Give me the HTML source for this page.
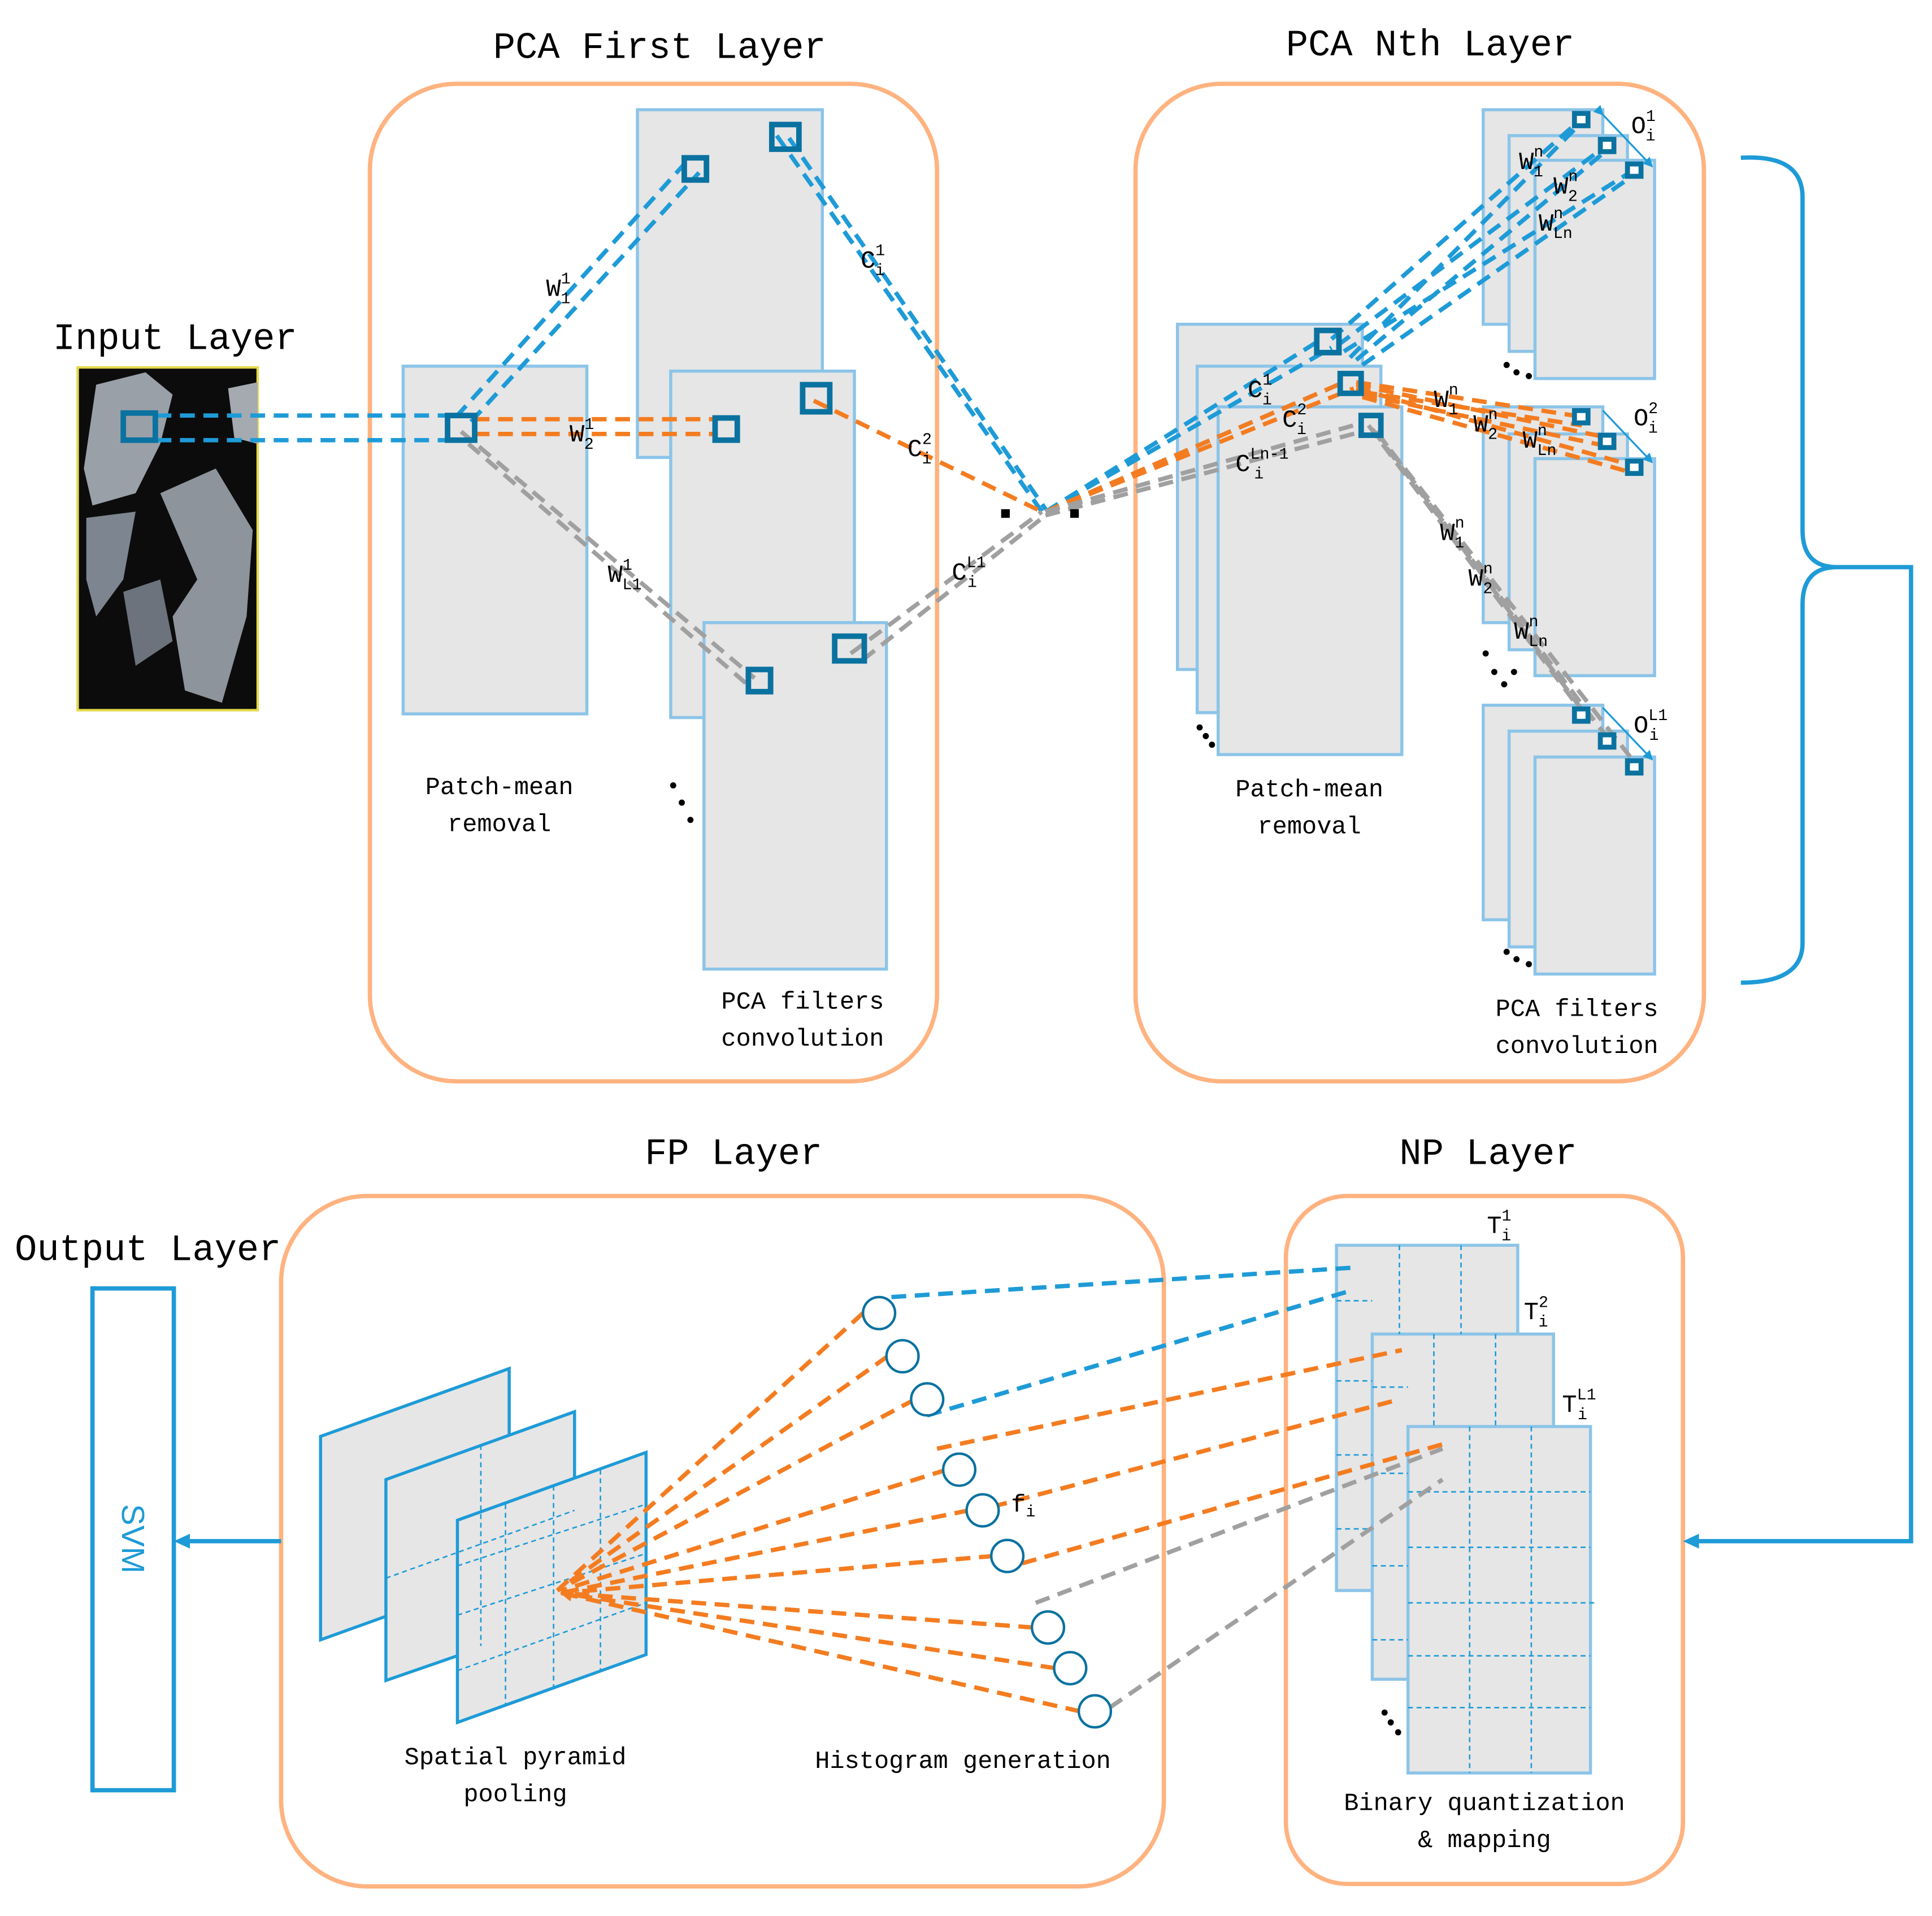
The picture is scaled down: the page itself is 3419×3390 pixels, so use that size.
<!DOCTYPE html>
<html><head><meta charset="utf-8"><style>html,body{margin:0;padding:0;background:#fff}svg{display:block}</style></head>
<body>
<svg width="3419" height="3390" viewBox="0 0 1567 1554" preserveAspectRatio="none" xmlns="http://www.w3.org/2000/svg" font-family="Liberation Mono, monospace">
<defs>
<marker id="ar" markerWidth="8" markerHeight="8" refX="7" refY="4" orient="auto" markerUnits="userSpaceOnUse"><path d="M0,0 L8,4 L0,8 z" fill="#1e9bd7"/></marker>
<marker id="ao" markerWidth="10" markerHeight="10" refX="9" refY="5" orient="auto" markerUnits="userSpaceOnUse"><path d="M0,0 L10,5 L0,10 z" fill="#f47c20"/></marker>
</defs>
<g font-size="30" fill="#000">
<text x="535" y="47" text-anchor="middle">PCA First Layer</text>
<text x="1160" y="45" text-anchor="middle">PCA Nth Layer</text>
<text x="142" y="283" text-anchor="middle">Input Layer</text>
<text x="595" y="944" text-anchor="middle">FP Layer</text>
<text x="1207" y="944" text-anchor="middle">NP Layer</text>
<text x="120" y="1022" text-anchor="middle">Output Layer</text>
</g>
<g fill="none" stroke="#ffb380" stroke-width="3.5">
<rect x="300" y="68" width="460" height="809" rx="70"/>
<rect x="921" y="68" width="461" height="809" rx="70"/>
<rect x="228" y="970" width="716" height="560" rx="70"/>
<rect x="1043" y="970" width="322" height="558" rx="50"/>
</g>
<rect x="63" y="298" width="146" height="278" fill="#0c0c0c" stroke="#e5d84a" stroke-width="2"/>
<path d="M78,312 L118,302 L140,320 L130,360 L110,400 L75,410 L68,380 Z" fill="#9aa0a8"/>
<path d="M185,315 L209,310 L209,360 L190,355 Z" fill="#a5aab0"/>
<path d="M70,420 L110,415 L100,470 L78,500 L70,470 Z" fill="#7d8590"/>
<path d="M130,400 L175,380 L205,430 L200,500 L180,570 L150,560 L140,500 L160,470 Z" fill="#8e949c"/>
<path d="M100,480 L130,470 L140,520 L110,540 Z" fill="#6c737c"/>
<g fill="#e6e6e6" stroke="#8cc4e8" stroke-width="2.5">
<rect x="327" y="297" width="149" height="282"/>
<rect x="517" y="89" width="150" height="282"/>
<rect x="544" y="301" width="149" height="281"/>
<rect x="571" y="505" width="148" height="281"/>
<rect x="955" y="263" width="150" height="280"/>
<rect x="971" y="297" width="149" height="281"/>
<rect x="988" y="330" width="149" height="282"/>
<rect x="1203" y="89" width="97" height="174"/>
<rect x="1224" y="110" width="96" height="175"/>
<rect x="1245" y="130" width="97" height="177"/>
<rect x="1203" y="330" width="97" height="175"/>
<rect x="1224" y="352" width="96" height="175"/>
<rect x="1245" y="372" width="97" height="176"/>
<rect x="1203" y="572" width="97" height="174"/>
<rect x="1224" y="593" width="96" height="175"/>
<rect x="1245" y="614" width="97" height="176"/>
<rect x="1084" y="1010" width="147" height="280"/>
<rect x="1113" y="1082" width="147" height="280"/>
<rect x="1142" y="1157" width="148" height="281"/>
</g>
<g stroke="#1e9bd7" stroke-width="1.2" stroke-dasharray="4,3" fill="none">
<path d="M1135,1010V1082M1185,1010V1082M1084,1055H1113M1084,1120H1113M1084,1180H1113M1084,1240H1113"/>
<path d="M1163,1082V1157M1213,1082V1157M1113,1125H1142M1113,1195H1142M1113,1270H1142M1113,1330H1142"/>
<path d="M1192,1157V1438M1242,1157V1438M1142,1210H1290M1142,1255H1290M1142,1300H1295M1142,1343H1290M1142,1385H1290"/>
</g>
<g fill="#e6e6e6" stroke="#1e9bd7" stroke-width="2.5">
<path d="M260,1165 L413,1110 L413,1275 L260,1330 Z"/>
<path d="M313,1200 L466,1145 L466,1310 L313,1363 Z"/>
<path d="M371,1233 L524,1178 L524,1342 L371,1397 Z"/>
</g>
<g stroke="#1e9bd7" stroke-width="1.2" stroke-dasharray="4,3" fill="none">
<path d="M313,1280 L466,1225 M390,1172 L390,1335"/>
<path d="M371,1270 L524,1220 M371,1310 L524,1260 M371,1355 L524,1300 M410,1220 L410,1383 M449,1205 L449,1370 M487,1192 L487,1356"/>
</g>
<g fill="none" stroke-width="3.5" stroke-dasharray="12,7">
<g stroke="#1e9bd7">
<path d="M127,337 H362 M127,357 H362"/>
<path d="M370,338 L556,132 M382,342 L567,140"/>
<path d="M630,110 L845,415 M640,112 L848,413"/>
<path d="M848,415 L1072,275 M848,415 L1080,282 M848,415 L1090,310"/>
<path d="M1080,275 L1282,97 M1085,280 L1303,118 M1090,285 L1325,138 M1095,290 L1282,100 M1100,292 L1303,122 M1105,296 L1325,142"/>
<path d="M723,1052 L1100,1028 M752,1148 L1095,1047"/>
</g>
<g stroke="#f47c20">
<path d="M385,340 H580 M385,352 H580"/>
<path d="M660,325 L845,415"/>
<path d="M848,415 L1090,310 M848,415 L1098,315"/>
<path d="M1100,310 L1283,338 M1100,312 L1304,355 M1100,315 L1326,378 M1105,318 L1283,345 M1105,320 L1304,362 M1105,322 L1326,384"/>
<path d="M760,1175 L1137,1095 M805,1222 L1135,1135 M829,1268 L1175,1170"/>
<path d="M700,1065 L452,1290 M720,1100 L452,1290 M742,1135 L452,1290 M768,1192 L455,1290 M786,1225 L455,1292 M806,1262 L455,1292 M838,1320 L455,1292 M856,1353 L455,1292 M876,1388 L455,1292" marker-end="url(#ao)"/>
</g>
<g stroke="#a0a0a0">
<path d="M374,350 L612,550 M380,360 L606,555"/>
<path d="M690,530 L845,415 M700,535 L848,418"/>
<path d="M848,415 L1105,343 M848,418 L1105,350"/>
<path d="M1110,345 L1285,580 M1113,348 L1305,600 M1116,350 L1327,620 M1118,352 L1290,585"/>
<path d="M840,1300 L1170,1175 M900,1385 L1170,1200"/>
</g>
</g>
<g fill="none" stroke="#0a72a0" stroke-width="4.5">
<rect x="100" y="335" width="26" height="22"/>
<rect x="363" y="337" width="22" height="20"/>
<rect x="555" y="128" width="18" height="18"/>
<rect x="626" y="101" width="22" height="20"/>
<rect x="580" y="339" width="18" height="18"/>
<rect x="651" y="312" width="22" height="22"/>
<rect x="607" y="543" width="18" height="18"/>
<rect x="677" y="516" width="24" height="20"/>
<rect x="1068" y="268" width="18" height="18"/>
<rect x="1087" y="303" width="17" height="16"/>
<rect x="1104" y="337" width="16" height="16"/>
</g>
<g fill="#fff" stroke="#0a72a0" stroke-width="4">
<rect x="1277" y="92" width="11" height="10"/><rect x="1298" y="113" width="11" height="10"/><rect x="1320" y="133" width="11" height="10"/>
<rect x="1277" y="333" width="11" height="10"/><rect x="1298" y="353" width="11" height="10"/><rect x="1320" y="374" width="11" height="10"/>
<rect x="1277" y="575" width="11" height="10"/><rect x="1298" y="596" width="11" height="10"/><rect x="1320" y="617" width="11" height="10"/>
</g>
<g stroke="#1e9bd7" stroke-width="1.5" fill="none">
<path d="M1300,93 L1340,135" marker-end="url(#ar)" marker-start="url(#ar)"/>
<path d="M1300,333 L1340,375" marker-end="url(#ar)"/>
<path d="M1300,574 L1340,616" marker-end="url(#ar)"/>
</g>
<g fill="#000">
<rect x="812" y="413" width="7" height="7"/><rect x="868" y="413" width="7" height="7"/>
<circle cx="546" cy="637" r="2.5"/><circle cx="553" cy="651" r="2.5"/><circle cx="560" cy="665" r="2.5"/>
<circle cx="973" cy="590" r="2.5"/><circle cx="978" cy="597" r="2.5"/><circle cx="983" cy="604" r="2.5"/>
<circle cx="1222" cy="296" r="2.5"/><circle cx="1230" cy="302" r="2.5"/><circle cx="1240" cy="305" r="2.5"/>
<circle cx="1205" cy="530" r="2.5"/><circle cx="1212" cy="545" r="2.5"/><circle cx="1220" cy="555" r="2.5"/><circle cx="1228" cy="545" r="2.5"/>
<circle cx="1222" cy="772" r="2.5"/><circle cx="1230" cy="778" r="2.5"/><circle cx="1240" cy="782" r="2.5"/>
<circle cx="1123" cy="1389" r="2.5"/><circle cx="1128" cy="1397" r="2.5"/><circle cx="1134" cy="1405" r="2.5"/>
</g>
<g fill="#fff" stroke="#0a72a0" stroke-width="2">
<circle cx="713" cy="1065" r="13"/><circle cx="732" cy="1100" r="13"/><circle cx="752" cy="1135" r="13"/>
<circle cx="778" cy="1192" r="13"/><circle cx="797" cy="1225" r="13"/><circle cx="817" cy="1262" r="13"/>
<circle cx="850" cy="1320" r="13"/><circle cx="868" cy="1353" r="13"/><circle cx="888" cy="1388" r="13"/>
</g>
<g fill="none" stroke="#1e9bd7" stroke-width="3.5">
<path d="M1412,128 Q1462,125 1462,160 L1462,430 Q1462,460 1490,460 Q1462,460 1462,490 L1462,765 Q1462,797 1412,797"/>
<path d="M1490,460 H1550 V1250 H1372"/>
<path d="M228,1250 H148"/>
<rect x="75" y="1045" width="66" height="407"/>
</g>
<path d="M1365,1250 L1378,1244 L1378,1256 Z" fill="#1e9bd7"/>
<path d="M141,1250 L154,1244 L154,1256 Z" fill="#1e9bd7"/>
<text x="108" y="1248" font-size="26" font-family="Liberation Sans, sans-serif" fill="#1e9bd7" text-anchor="middle" transform="rotate(90 108 1248)" dy="9">SVM</text>
<g font-size="20" fill="#000" text-anchor="middle">
<text x="405" y="644">Patch-mean</text><text x="405" y="674">removal</text>
<text x="651" y="818">PCA filters</text><text x="651" y="848">convolution</text>
<text x="1062" y="646">Patch-mean</text><text x="1062" y="676">removal</text>
<text x="1279" y="824">PCA filters</text><text x="1279" y="854">convolution</text>
<text x="418" y="1431">Spatial pyramid</text><text x="418" y="1461">pooling</text>
<text x="781" y="1434">Histogram generation</text>
<text x="1204" y="1468">Binary quantization</text><text x="1204" y="1498">&amp; mapping</text>
</g>
<g font-size="20" fill="#000">
<text x="443" y="240">W<tspan font-size="13" dy="-10">1</tspan><tspan font-size="13" dx="-8" dy="16">1</tspan></text>
<text x="462" y="358">W<tspan font-size="13" dy="-10">1</tspan><tspan font-size="13" dx="-8" dy="16">2</tspan></text>
<text x="493" y="472">W<tspan font-size="13" dy="-10">1</tspan><tspan font-size="13" dx="-8" dy="16">L1</tspan></text>
<text x="698" y="217">C<tspan font-size="13" dy="-10">1</tspan><tspan font-size="13" dx="-8" dy="16">i</tspan></text>
<text x="736" y="370">C<tspan font-size="13" dy="-10">2</tspan><tspan font-size="13" dx="-8" dy="16">i</tspan></text>
<text x="772" y="470">C<tspan font-size="13" dy="-10">L1</tspan><tspan font-size="13" dx="-15" dy="16">i</tspan></text>
<text x="1012" y="322">C<tspan font-size="13" dy="-10">1</tspan><tspan font-size="13" dx="-8" dy="16">i</tspan></text>
<text x="1040" y="346">C<tspan font-size="13" dy="-10">2</tspan><tspan font-size="13" dx="-8" dy="16">i</tspan></text>
<text x="1002" y="382">C<tspan font-size="13" dy="-10">Ln-1</tspan><tspan font-size="13" dx="-28" dy="16">i</tspan></text>
<text x="1232" y="137">W<tspan font-size="13" dy="-10">n</tspan><tspan font-size="13" dx="-8" dy="16">1</tspan></text>
<text x="1260" y="157">W<tspan font-size="13" dy="-10">n</tspan><tspan font-size="13" dx="-8" dy="16">2</tspan></text>
<text x="1248" y="187">W<tspan font-size="13" dy="-10">n</tspan><tspan font-size="13" dx="-8" dy="16">Ln</tspan></text>
<text x="1163" y="330">W<tspan font-size="13" dy="-10">n</tspan><tspan font-size="13" dx="-8" dy="16">1</tspan></text>
<text x="1195" y="350">W<tspan font-size="13" dy="-10">n</tspan><tspan font-size="13" dx="-8" dy="16">2</tspan></text>
<text x="1235" y="363">W<tspan font-size="13" dy="-10">n</tspan><tspan font-size="13" dx="-8" dy="16">Ln</tspan></text>
<text x="1168" y="438">W<tspan font-size="13" dy="-10">n</tspan><tspan font-size="13" dx="-8" dy="16">1</tspan></text>
<text x="1191" y="475">W<tspan font-size="13" dy="-10">n</tspan><tspan font-size="13" dx="-8" dy="16">2</tspan></text>
<text x="1228" y="518">W<tspan font-size="13" dy="-10">n</tspan><tspan font-size="13" dx="-8" dy="16">Ln</tspan></text>
<text x="1323" y="108">O<tspan font-size="13" dy="-10">1</tspan><tspan font-size="13" dx="-8" dy="16">i</tspan></text>
<text x="1325" y="345">O<tspan font-size="13" dy="-10">2</tspan><tspan font-size="13" dx="-8" dy="16">i</tspan></text>
<text x="1325" y="594">O<tspan font-size="13" dy="-10">L1</tspan><tspan font-size="13" dx="-15" dy="16">i</tspan></text>
<text x="1206" y="1000">T<tspan font-size="13" dy="-10">1</tspan><tspan font-size="13" dx="-8" dy="16">i</tspan></text>
<text x="1236" y="1070">T<tspan font-size="13" dy="-10">2</tspan><tspan font-size="13" dx="-8" dy="16">i</tspan></text>
<text x="1267" y="1145">T<tspan font-size="13" dy="-10">L1</tspan><tspan font-size="13" dx="-15" dy="16">i</tspan></text>
<text x="820" y="1226">f<tspan font-size="13" dy="4">i</tspan></text>
</g>
</svg>
</body></html>
